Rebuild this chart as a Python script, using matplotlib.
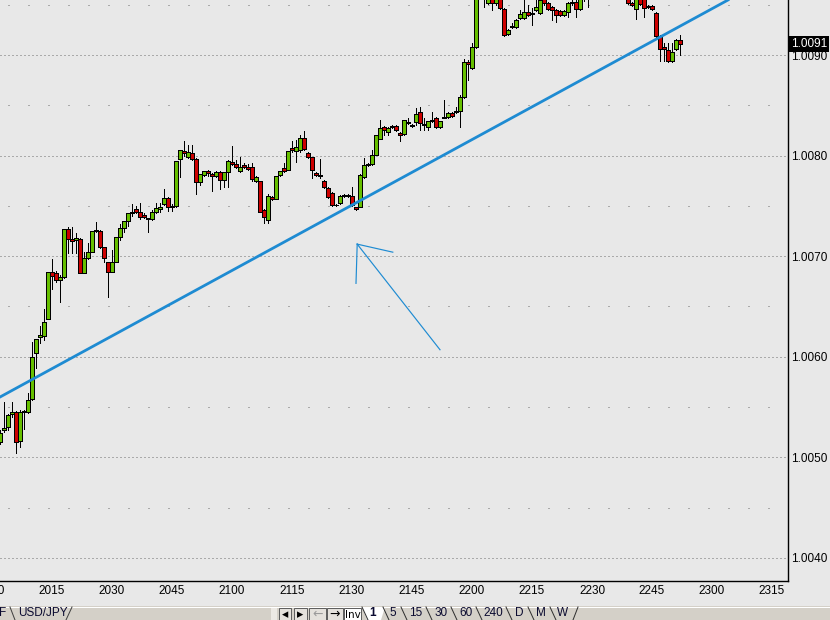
import matplotlib
matplotlib.use("Agg")
import matplotlib.pyplot as plt
import matplotlib.transforms as mtransforms
from matplotlib.patches import Rectangle, Polygon

# ---------------- data (USD/JPY-style 1-minute bars, prices) ----------------
first_bar_minute = 2          # first bar = 20:02 (minutes after 20:00)
opens = [1.00515, 1.00527, 1.00530, 1.00543, 1.00545, 1.00516, 1.00545, 1.00545, 1.00558, 1.00604,
         1.00620, 1.00621, 1.00638, 1.00684, 1.00683, 1.00676, 1.00679, 1.00727, 1.00717, 1.00716,
         1.00717, 1.00683, 1.00698, 1.00704, 1.00725, 1.00725, 1.00709, 1.00694, 1.00684, 1.00694,
         1.00719, 1.00728, 1.00735, 1.00743, 1.00747, 1.00744, 1.00741, 1.00738, 1.00737, 1.00744,
         1.00747, 1.00752, 1.00758, 1.00749, 1.00750, 1.00797, 1.00805, 1.00799, 1.00803, 1.00797,
         1.00774, 1.00781, 1.00785, 1.00782, 1.00780, 1.00784, 1.00776, 1.00784, 1.00794, 1.00792,
         1.00785, 1.00791, 1.00789, 1.00789, 1.00775, 1.00775, 1.00746, 1.00736, 1.00759, 1.00757,
         1.00781, 1.00788, 1.00786, 1.00808, 1.00805, 1.00806, 1.00818, 1.00803, 1.00799, 1.00783,
         1.00781, 1.00775, 1.00768, 1.00763, 1.00751, 1.00753, 1.00760, 1.00760, 1.00760, 1.00749,
         1.00749, 1.00779, 1.00791, 1.00792, 1.00801, 1.00817, 1.00828, 1.00823, 1.00828, 1.00829,
         1.00822, 1.00821, 1.00833, 1.00830, 1.00833, 1.00843, 1.00831, 1.00828, 1.00834, 1.00837,
         1.00828, 1.00837, 1.00838, 1.00842, 1.00843, 1.00844, 1.00858, 1.00893, 1.00887, 1.00908,
         1.00958, 1.00965, 1.00952, 1.00960, 1.00952, 1.00958, 1.00946, 1.00921, 1.00928, 1.00928,
         1.00937, 1.00937, 1.00943, 1.00941, 1.00945, 1.00942, 1.00956, 1.00952, 1.00948, 1.00945,
         1.00944, 1.00940, 1.00943, 1.00952, 1.00953, 1.00946, 1.00957, 1.00960, 1.00958, 1.00965,
         1.00970, 1.00967, 1.00972, 1.00969, 1.00966, 1.00968, 1.00963, 1.00958, 1.00952, 1.00946,
         1.00957, 1.00956, 1.00948, 1.00949, 1.00942, 1.00919, 1.00908, 1.00905, 1.00894, 1.00906,
         1.00915]
highs = [1.00527, 1.00555, 1.00543, 1.00555, 1.00546, 1.00547, 1.00547, 1.00564, 1.00615, 1.00618,
         1.00631, 1.00648, 1.00684, 1.00697, 1.00685, 1.00681, 1.00727, 1.00729, 1.00729, 1.00723,
         1.00718, 1.00704, 1.00713, 1.00725, 1.00734, 1.00726, 1.00709, 1.00694, 1.00706, 1.00719,
         1.00732, 1.00735, 1.00743, 1.00752, 1.00750, 1.00753, 1.00743, 1.00738, 1.00746, 1.00753,
         1.00753, 1.00767, 1.00759, 1.00752, 1.00795, 1.00806, 1.00815, 1.00811, 1.00811, 1.00798,
         1.00782, 1.00785, 1.00786, 1.00783, 1.00785, 1.00785, 1.00784, 1.00796, 1.00810, 1.00796,
         1.00799, 1.00793, 1.00792, 1.00793, 1.00780, 1.00775, 1.00747, 1.00762, 1.00760, 1.00780,
         1.00785, 1.00793, 1.00805, 1.00815, 1.00816, 1.00820, 1.00824, 1.00804, 1.00799, 1.00784,
         1.00797, 1.00776, 1.00769, 1.00764, 1.00752, 1.00761, 1.00762, 1.00762, 1.00769, 1.00749,
         1.00782, 1.00798, 1.00793, 1.00806, 1.00820, 1.00835, 1.00829, 1.00828, 1.00830, 1.00830,
         1.00823, 1.00835, 1.00837, 1.00831, 1.00847, 1.00848, 1.00837, 1.00834, 1.00843, 1.00838,
         1.00834, 1.00855, 1.00843, 1.00843, 1.00848, 1.00860, 1.00896, 1.00895, 1.00912, 1.00963,
         1.00970, 1.00970, 1.00965, 1.00963, 1.00962, 1.00960, 1.00947, 1.00926, 1.00932, 1.00936,
         1.00945, 1.00955, 1.00950, 1.00947, 1.00958, 1.00958, 1.00960, 1.00953, 1.00949, 1.00946,
         1.00945, 1.00945, 1.00953, 1.00958, 1.00955, 1.00960, 1.00966, 1.00964, 1.00968, 1.00974,
         1.00975, 1.00976, 1.00975, 1.00972, 1.00971, 1.00970, 1.00965, 1.00960, 1.00953, 1.00959,
         1.00960, 1.00958, 1.00950, 1.00950, 1.00943, 1.00920, 1.00912, 1.00912, 1.00912, 1.00916,
         1.00920]
lows = [1.00513, 1.00525, 1.00527, 1.00540, 1.00504, 1.00510, 1.00528, 1.00544, 1.00557, 1.00589,
        1.00614, 1.00617, 1.00638, 1.00667, 1.00674, 1.00654, 1.00678, 1.00703, 1.00703, 1.00703,
        1.00683, 1.00683, 1.00697, 1.00704, 1.00724, 1.00708, 1.00694, 1.00659, 1.00684, 1.00694,
        1.00716, 1.00724, 1.00730, 1.00740, 1.00743, 1.00737, 1.00738, 1.00724, 1.00736, 1.00743,
        1.00744, 1.00751, 1.00745, 1.00745, 1.00749, 1.00779, 1.00800, 1.00798, 1.00796, 1.00762,
        1.00771, 1.00780, 1.00780, 1.00765, 1.00779, 1.00767, 1.00769, 1.00769, 1.00791, 1.00788,
        1.00784, 1.00788, 1.00786, 1.00775, 1.00774, 1.00744, 1.00733, 1.00733, 1.00756, 1.00757,
        1.00780, 1.00784, 1.00786, 1.00804, 1.00794, 1.00804, 1.00806, 1.00798, 1.00778, 1.00780,
        1.00778, 1.00768, 1.00758, 1.00750, 1.00750, 1.00752, 1.00759, 1.00759, 1.00750, 1.00746,
        1.00749, 1.00778, 1.00790, 1.00791, 1.00801, 1.00817, 1.00820, 1.00820, 1.00827, 1.00824,
        1.00815, 1.00820, 1.00831, 1.00828, 1.00830, 1.00825, 1.00825, 1.00825, 1.00833, 1.00827,
        1.00827, 1.00837, 1.00837, 1.00838, 1.00842, 1.00828, 1.00857, 1.00875, 1.00886, 1.00907,
        1.00956, 1.00948, 1.00951, 1.00945, 1.00950, 1.00946, 1.00919, 1.00920, 1.00927, 1.00927,
        1.00936, 1.00936, 1.00939, 1.00930, 1.00944, 1.00941, 1.00950, 1.00945, 1.00935, 1.00933,
        1.00939, 1.00939, 1.00938, 1.00950, 1.00938, 1.00945, 1.00954, 1.00948, 1.00957, 1.00962,
        1.00964, 1.00965, 1.00966, 1.00963, 1.00962, 1.00960, 1.00957, 1.00951, 1.00949, 1.00936,
        1.00950, 1.00938, 1.00947, 1.00945, 1.00918, 1.00894, 1.00894, 1.00893, 1.00893, 1.00905,
        1.00900]
closes = [1.00524, 1.00529, 1.00542, 1.00545, 1.00515, 1.00545, 1.00546, 1.00557, 1.00600, 1.00618,
          1.00622, 1.00635, 1.00684, 1.00680, 1.00676, 1.00679, 1.00727, 1.00717, 1.00715, 1.00718,
          1.00683, 1.00698, 1.00704, 1.00725, 1.00726, 1.00709, 1.00698, 1.00684, 1.00694, 1.00719,
          1.00728, 1.00735, 1.00743, 1.00744, 1.00744, 1.00739, 1.00739, 1.00737, 1.00744, 1.00748,
          1.00749, 1.00758, 1.00749, 1.00750, 1.00795, 1.00806, 1.00803, 1.00804, 1.00797, 1.00774,
          1.00782, 1.00785, 1.00783, 1.00780, 1.00784, 1.00776, 1.00784, 1.00795, 1.00792, 1.00789,
          1.00789, 1.00789, 1.00787, 1.00777, 1.00779, 1.00744, 1.00739, 1.00760, 1.00757, 1.00780,
          1.00785, 1.00785, 1.00805, 1.00806, 1.00809, 1.00818, 1.00807, 1.00799, 1.00786, 1.00781,
          1.00780, 1.00769, 1.00759, 1.00751, 1.00751, 1.00760, 1.00761, 1.00761, 1.00751, 1.00747,
          1.00781, 1.00791, 1.00792, 1.00801, 1.00820, 1.00827, 1.00825, 1.00827, 1.00829, 1.00825,
          1.00820, 1.00835, 1.00832, 1.00829, 1.00841, 1.00832, 1.00830, 1.00834, 1.00835, 1.00828,
          1.00834, 1.00838, 1.00842, 1.00839, 1.00844, 1.00858, 1.00893, 1.00891, 1.00908, 1.00958,
          1.00965, 1.00962, 1.00960, 1.00952, 1.00958, 1.00947, 1.00920, 1.00925, 1.00929, 1.00935,
          1.00941, 1.00943, 1.00940, 1.00942, 1.00948, 1.00955, 1.00952, 1.00946, 1.00945, 1.00940,
          1.00940, 1.00944, 1.00952, 1.00953, 1.00946, 1.00957, 1.00962, 1.00958, 1.00965, 1.00970,
          1.00967, 1.00972, 1.00969, 1.00966, 1.00968, 1.00963, 1.00958, 1.00952, 1.00950, 1.00957,
          1.00951, 1.00947, 1.00949, 1.00946, 1.00919, 1.00906, 1.00906, 1.00894, 1.00903, 1.00915,
          1.00911]

x_tick_minutes = [0, 15, 30, 45, 60, 75, 90, 105, 120, 135, 150, 165, 180, 195]
x_tick_labels = ["2000", "2015", "2030", "2045", "2100", "2115", "2130", "2145",
                 "2200", "2215", "2230", "2245", "2300", "2315"]
y_major = [1.0040, 1.0050, 1.0060, 1.0070, 1.0080, 1.0090]
y_major_labels = ["1.0040", "1.0050", "1.0060", "1.0070", "1.0080", "1.0090"]
y_minor = [1.0045, 1.0055, 1.0065, 1.0075, 1.0085, 1.0095]
last_price = 1.00911
last_price_label = "1.0091"

# user drawings (minute after 20:00, price)
trend_anchor_1 = (2.0, 1.00560)
trend_anchor_2 = (184.0, 1.009547)
arrow_tip = (91.3, 1.00712)
arrow_tail = (112.0, 1.00607)
arrow_wing_a = (100.2, 1.00704)
arrow_wing_b = (91.0, 1.00673)

symbol_tabs = ["F", "USD/JPY"]
period_tabs = ["1", "5", "15", "30", "60", "240", "D", "M", "W"]

# ---------------- styling ----------------
BG = "#e8e8e8"
GREEN = "#66bf00"
RED = "#cc0000"
BLUE = "#1e8bd2"
FONT = "Liberation Sans"
plt.rcParams["font.family"] = [FONT, "DejaVu Sans"]

W, H = 830, 620
fig = plt.figure(figsize=(W / 100, H / 100), dpi=100, facecolor=BG)
PX = 0.72  # one pixel in points

ax = fig.add_axes([0, 39 / H, 788 / W, 581 / H])
ax.set_facecolor(BG)
ax.set_xlim(2, 199)
ax.set_ylim(1.003771, 1.009547)

# grid
for v in y_major:
    ax.axhline(v, color="#6e6e6e", lw=PX, ls=(0, (1, 3)), zorder=1)
for v in y_minor:
    ax.axhline(v, color="#6e6e6e", lw=PX, ls=(12, (1, 19)), zorder=1)

# candles
body_w = 0.9
for i, (o, h, l, c) in enumerate(zip(opens, highs, lows, closes)):
    x = first_bar_minute + i
    ax.plot([x, x], [l, h], color="black", lw=PX, zorder=2,
            solid_capstyle="butt", antialiased=False)
    lo, hi = min(o, c), max(o, c)
    col = GREEN if c > o else (RED if c < o else "black")
    ax.add_patch(Rectangle((x - body_w / 2, lo), body_w, hi - lo,
                           facecolor=col, edgecolor="black", lw=PX,
                           zorder=3, antialiased=False))

# trend line and hand-drawn arrow
ax.axline(trend_anchor_1, trend_anchor_2, color=BLUE, lw=2.0, zorder=4)
for p in (arrow_tail, arrow_wing_a, arrow_wing_b):
    ax.plot([arrow_tip[0], p[0]], [arrow_tip[1], p[1]], color=BLUE, lw=0.85, zorder=4)

# axes frame
for s in ("left", "top"):
    ax.spines[s].set_visible(False)
for s in ("right", "bottom"):
    ax.spines[s].set_color("black")
    ax.spines[s].set_linewidth(1.0)

ax.yaxis.tick_right()
ax.set_yticks(y_major)
ax.set_yticklabels(y_major_labels)
ax.set_xticks(x_tick_minutes[1:])
ax.set_xticklabels(x_tick_labels[1:])
ax.tick_params(axis="both", length=0, labelsize=8.5, colors="black")
ax.tick_params(axis="y", pad=2)
ax.tick_params(axis="x", pad=3)

# first x label, partially cut by the figure edge (as in the reference)
trans_x = mtransforms.offset_copy(ax.get_xaxis_transform(), fig=fig, y=-3, units="points")
ax.text(x_tick_minutes[0], 0, x_tick_labels[0], transform=trans_x, ha="center", va="top",
        fontsize=8.5, clip_on=False)

# last price marker
trans_y = mtransforms.offset_copy(ax.get_yaxis_transform(), fig=fig, x=2.2, units="points")
ax.text(1.0, last_price, last_price_label, transform=trans_y, ha="left", va="center",
        fontsize=8.5, color="white", clip_on=False, zorder=20,
        bbox=dict(boxstyle="square,pad=0.18", fc="black", ec="none"))

# ---------------- bottom tab bar (pixel overlay) ----------------
ov = fig.add_axes([0, 0, 1, 1])
ov.set_xlim(0, W)
ov.set_ylim(H, 0)
ov.axis("off")
ov.patch.set_alpha(0)
ov.add_patch(Rectangle((0, 606), W, 14, fc="#d4d0c8", ec="none"))
ov.plot([0, W], [606.5, 606.5], color="white", lw=PX)
TXT = "#0a0a30"
ov.text(-1, 613.5, symbol_tabs[0], ha="left", va="center", fontsize=8.5, color=TXT)
ov.plot([10, 15], [607, 620], color="#404040", lw=PX)
ov.text(18, 613.5, symbol_tabs[1], ha="left", va="center", fontsize=8.5, color=TXT)
ov.plot([72, 66], [607, 620], color="#404040", lw=PX)

# navigation buttons
ov.add_patch(Rectangle((271, 607), 6, 13, fc="#ece9e4", ec="none"))
buttons = [(279, 291, "\u25c2", "black"), (294, 307, "\u25b8", "black"),
           (309, 326, "\u2190", "#9a9a9a"), (327, 343, "\u2192", "black"),
           (344, 361, "Inv", "black")]
for x0, x1, lab, col in buttons:
    ov.add_patch(Rectangle((x0, 608), x1 - x0, 12, fc="#e4e1dc" if lab != "Inv" else "white",
                           ec="#606060", lw=PX))
    ov.text((x0 + x1) / 2, 614.5, lab, ha="center", va="center", fontsize=7.5 if lab == "Inv" else 9,
            color=col, family=["DejaVu Sans"])

# period tabs
ov.add_patch(Polygon([(362, 607), (385, 607), (381, 620), (367, 620)], closed=True,
                     fc="white", ec="none"))
tab_centres = [373, 393, 416, 441, 466, 493, 519, 541, 563]
seps = [(362, 368), (383, 389), (401, 407), (426, 432), (451, 457), (476, 482),
        (506, 512), (528, 534), (550, 556)]
for (a, b) in seps:
    ov.plot([a, b], [607, 620], color="#303030", lw=PX)
ov.plot([578, 573], [607, 620], color="#303030", lw=PX)
for xc, lab in zip(tab_centres, period_tabs):
    ov.text(xc, 613.5, lab, ha="center", va="center", fontsize=8.5, color=TXT,
            fontweight="bold" if lab == "1" else "normal")

fig.savefig("out.png", dpi=100, facecolor=BG)
